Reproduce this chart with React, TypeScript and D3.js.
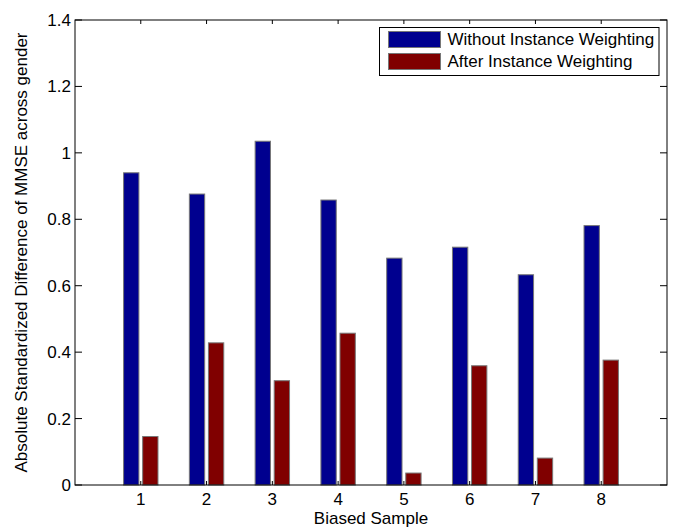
import React, { useEffect, useRef } from 'react';
import * as d3 from 'd3';

const samples = [1, 2, 3, 4, 5, 6, 7, 8];
const withoutWeighting = [0.94, 0.876, 1.035, 0.858, 0.683, 0.716, 0.633, 0.781];
const afterWeighting = [0.146, 0.428, 0.314, 0.457, 0.036, 0.359, 0.081, 0.376];
const yTicks = [0, 0.2, 0.4, 0.6, 0.8, 1, 1.2, 1.4];
const seriesNames = ['Without Instance Weighting', 'After Instance Weighting'];
const seriesColors = ['#00008f', '#800000'];

const App = () => {
  const svgRef = useRef<SVGSVGElement>(null);

  useEffect(() => {
    document.body.style.margin = '0';
    const svg = d3.select(svgRef.current);
    svg.selectAll('*').remove();

    const width = 674;
    const height = 528;
    const margin = { top: 20, right: 7, bottom: 43, left: 75 };
    const font = 'Liberation Sans, Arial, sans-serif';
    const fontSize = 17;

    const x = d3.scaleLinear().domain([0, 9]).range([margin.left, width - margin.right]);
    const y = d3.scaleLinear().domain([0, 1.4]).range([height - margin.bottom, margin.top]);

    const barW = 0.233;
    const offsets = [-0.145, 0.145];
    const series = [withoutWeighting, afterWeighting];

    const g = svg.append('g');

    // bars, drawn from the series arrays
    series.forEach((vals, si) => {
      g.selectAll(`.bar${si}`)
        .data(vals)
        .enter()
        .append('rect')
        .attr('x', (d, i) => x(samples[i] + offsets[si] - barW / 2))
        .attr('y', d => y(d))
        .attr('width', x(barW) - x(0))
        .attr('height', d => y(0) - y(d))
        .attr('fill', seriesColors[si])
        .attr('stroke', '#777')
        .attr('stroke-width', 1);
    });

    // axes box
    const x0 = x(0), x1 = x(9), y0 = y(0), y1 = y(1.4);
    g.append('rect')
      .attr('x', x0).attr('y', y1)
      .attr('width', x1 - x0).attr('height', y0 - y1)
      .attr('fill', 'none').attr('stroke', '#000').attr('stroke-width', 1);

    // x ticks (inward, top and bottom)
    samples.forEach(s => {
      g.append('line').attr('x1', x(s)).attr('x2', x(s)).attr('y1', y0).attr('y2', y0 - 4).attr('stroke', '#000');
      g.append('line').attr('x1', x(s)).attr('x2', x(s)).attr('y1', y1).attr('y2', y1 + 4).attr('stroke', '#000');
      g.append('text')
        .attr('x', x(s)).attr('y', y0 + 20)
        .attr('text-anchor', 'middle')
        .style('font-family', font).style('font-size', `${fontSize}px`)
        .text(s);
    });

    // y ticks (inward, left and right)
    yTicks.forEach(t => {
      g.append('line').attr('x1', x0).attr('x2', x0 + 7).attr('y1', y(t)).attr('y2', y(t)).attr('stroke', '#000');
      g.append('line').attr('x1', x1).attr('x2', x1 - 7).attr('y1', y(t)).attr('y2', y(t)).attr('stroke', '#000');
      g.append('text')
        .attr('x', x0 - 4).attr('y', y(t))
        .attr('dy', '0.35em')
        .attr('text-anchor', 'end')
        .style('font-family', font).style('font-size', `${fontSize}px`)
        .text(d3.format('~g')(t));
    });

    // axis labels
    g.append('text')
      .attr('x', (x0 + x1) / 2).attr('y', height - 4)
      .attr('text-anchor', 'middle')
      .style('font-family', font).style('font-size', `${fontSize}px`)
      .text('Biased Sample');

    g.append('text')
      .attr('transform', `translate(27,${(y0 + y1) / 2}) rotate(-90)`)
      .attr('text-anchor', 'middle')
      .style('font-family', font).style('font-size', `${fontSize}px`)
      .text('Absolute Standardized Difference of MMSE across gender');

    // legend
    const lg = g.append('g').attr('transform', 'translate(379.5,27.5)');
    lg.append('rect')
      .attr('width', 279.5).attr('height', 48)
      .attr('fill', '#fff').attr('stroke', '#000').attr('stroke-width', 1);
    seriesNames.forEach((name, i) => {
      lg.append('rect')
        .attr('x', 9).attr('y', 4 + i * 22)
        .attr('width', 52).attr('height', 16)
        .attr('fill', seriesColors[i])
        .attr('stroke', '#777');
      lg.append('text')
        .attr('x', 68).attr('y', 12 + i * 22)
        .attr('dy', '0.35em')
        .style('font-family', font).style('font-size', `${fontSize}px`)
        .text(name);
    });
  }, []);

  return <svg ref={svgRef} width={674} height={528} style={{ display: 'block', background: '#fff' }} />;
};

export default App;
